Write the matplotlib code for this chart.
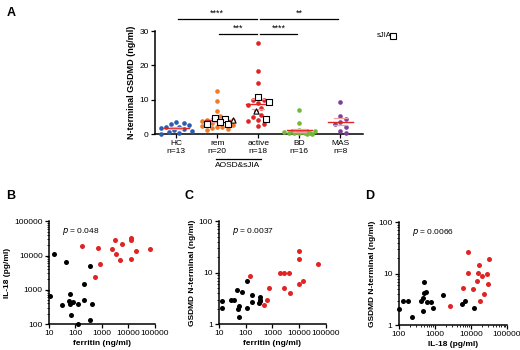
import numpy as np
import matplotlib
matplotlib.use("Agg")
import matplotlib.pyplot as plt
from matplotlib import ticker

plt.rcParams['font.family'] = ['Liberation Sans', 'DejaVu Sans']
plt.rcParams['font.size'] = 6

# Panel A: N-terminal GSDMD (ng/ml) per group
groups = ["HC\nn=13", "rem\nn=20", "active\nn=18", "BD\nn=16", "MAS\nn=8"]
hc = [3.5, 3.2, 2.9, 2.5, 2.2, 2.0, 1.8, 1.5, 1.2, 0.9, 0.5, 0.3, 0.1]
rem = [12.5, 9.5, 6.8, 5.3, 4.6, 4.4, 4.2, 4.0, 3.8, 3.5, 3.3, 3.0, 2.8,
       2.6, 2.4, 2.2, 2.0, 1.8, 1.5, 1.2]
active = [26.5, 18.5, 15.0, 10.7, 10.0, 9.8, 9.4, 9.0, 8.5, 7.5, 6.8, 5.5,
          5.0, 4.5, 4.0, 3.8, 3.0, 2.3]
bd = [7.0, 3.2, 1.2, 1.0, 0.9, 0.8, 0.7, 0.6, 0.5, 0.4, 0.3, 0.3, 0.2, 0.2,
      0.1, 0.1]
mas = [9.3, 5.3, 4.3, 3.5, 2.8, 2.2, 1.0, 0.4]
# sJIA patients (open squares) and one triangle
rem_sjia = [4.6, 4.4, 3.5, 3.0, 2.8]
active_sjia = [10.7, 9.4, 4.5]
rem_tri = [4.0]
active_tri = [6.8]
sig_pairs = [(0, 2, "****"), (2, 4, "**"), (1, 2, "***"), (2, 3, "****")]

# Panel B: ferritin vs IL-18
b_fer_blk = [15.6, 43, 363, 11, 205, 61, 205, 32, 56, 61, 79, 130, 410, 66, 360, 130]
b_il18_blk = [11000, 6300, 5000, 680, 1450, 730, 520, 350, 470, 390, 430, 390, 390, 180, 134, 102]
b_fer_red = [174, 740, 550, 830, 2350, 3160, 3470, 5900, 4900, 12600, 12600, 12600, 18600, 64000]
b_il18_red = [19500, 17000, 2300, 5600, 15000, 28000, 11000, 21500, 7300, 31500, 28000, 7800, 13700, 15600]

# Panel C: ferritin vs GSDMD
c_fer_blk = [13, 13.5, 29, 38, 49, 71, 52, 54, 58, 115, 115, 173, 173, 330, 355, 320, 355]
c_gs_blk = [2.8, 2.1, 2.9, 3.0, 4.5, 4.3, 1.95, 2.2, 1.37, 6.8, 2.04, 3.75, 2.7, 3.0, 3.3, 2.55, 2.8]
c_fer_red = [150, 470, 650, 730, 1880, 2650, 2760, 4000, 4700, 9400, 9400, 9400, 14000, 49000]
c_gs_red = [8.6, 2.33, 2.95, 5.0, 10, 9.7, 5.0, 10, 4.0, 26.6, 18.4, 6.1, 7.0, 14.7]

# Panel D: IL-18 vs GSDMD
d_il18_blk = [100, 129, 178, 230, 420, 470, 490, 510, 570, 470, 620, 800, 890, 1700, 5600, 7000, 11800]
d_gs_blk = [2.1, 3.0, 3.0, 1.41, 2.9, 3.4, 7.0, 4.3, 4.4, 1.9, 2.76, 2.8, 2.17, 3.85, 2.6, 3.0, 2.2]
d_il18_red = [2640, 6000, 8300, 8500, 11500, 14800, 15800, 16500, 17500, 20400, 23000, 28500, 29000, 31500]
d_gs_red = [2.38, 5.2, 10.4, 27, 5.1, 7.1, 10.4, 15, 3.0, 9.0, 4.0, 10, 6.3, 19]

colors_a = ['#2a5db0', '#ee7a2a', '#e02424', '#72b83a', '#7e3f98']
red = '#e02424'


def swarm(vals, ypx=3.43, xpx=41.25, d=5.5, maxoff=16):
    # simple beeswarm in pixel units, clamped to +-maxoff px
    placed = []
    offs = []
    for v in vals:
        y = v * ypx
        best, best_d = 0.0, -1
        for k in range(40):
            step = (k + 1) // 2 * (1 if k % 2 else -1) * 2.6
            if abs(step) > maxoff:
                break
            md = min([np.hypot(step - px, y - py) for px, py in placed] or [99])
            if md >= d:
                best = step
                break
            if md > best_d:
                best, best_d = step, md
        placed.append((best, y))
        offs.append(best / xpx)
    return np.array(offs)


fig = plt.figure(figsize=(5.2, 3.5), dpi=100)


def style(ax):
    for s in ['top', 'right']:
        ax.spines[s].set_visible(False)
    for s in ['left', 'bottom']:
        ax.spines[s].set_linewidth(1.1)
    ax.tick_params(direction='out', length=3, width=0.9, labelsize=6, pad=1.5)
    ax.tick_params(which='minor', length=1.5, width=0.6)


# ---- Panel A
ax = fig.add_axes([0.298, 0.617, 0.4, 0.294])
style(ax)
data_a = [hc, rem, active, bd, mas]
for i, vals in enumerate(data_a):
    vals = np.array(vals)
    xs = i + swarm(vals)
    ax.scatter(xs, vals, s=11, color=colors_a[i], lw=0, zorder=3, clip_on=False)
    m = vals.mean()
    sem = vals.std(ddof=1) / np.sqrt(len(vals))
    ax.plot([i - 0.3, i + 0.3], [m, m], color=red, lw=1.0, zorder=4)
    ax.plot([i - 0.15, i + 0.15], [m + sem] * 2, color='#f2a0a0', lw=0.9, zorder=4)
    ax.plot([i - 0.15, i + 0.15], [m - sem] * 2, color='#f2a0a0', lw=0.9, zorder=4)
    if i in (1, 2):
        sq = rem_sjia if i == 1 else active_sjia
        tri = rem_tri if i == 1 else active_tri
        for v in sq:
            j = int(np.argmin(np.abs(vals - v)))
            ax.scatter(xs[j], vals[j], s=16, marker='s', facecolor='white',
                       edgecolor='black', lw=0.8, zorder=5)
        for v in tri:
            j = int(np.argmin(np.abs(vals - v)))
            ax.scatter(xs[j], vals[j], s=14, marker='^', facecolor='white',
                       edgecolor='black', lw=0.8, zorder=5)

ax.set_xlim(-0.52, 4.55)
ax.set_ylim(0, 30)
ax.set_yticks([0, 10, 20, 30])
ax.set_xticks(range(5))
ax.set_xticklabels(groups, linespacing=1.1)
ax.set_ylabel("N-terminal GSDMD (ng/ml)", fontsize=6.5, fontweight='bold', labelpad=2)
for k, (a, b, st) in enumerate(sig_pairs):
    y = 33.6 if k < 2 else 29.2
    off = 0.04
    ax.plot([a + (off if a == 2 else 0.05), b - (off if b == 2 else 0.05)], [y, y],
            color='black', lw=0.9, clip_on=False)
    ax.text((a + b) / 2, y + 0.3, st, ha='center', va='bottom', fontsize=6.5)
tr = ax.get_xaxis_transform()
ax.plot([0.97, 2.06], [-0.24, -0.24], color='black', lw=0.9, transform=tr, clip_on=False)
ax.text(1.5, -0.27, "AOSD&sJIA", ha='center', va='top', fontsize=6, transform=tr)
fig.text(0.725, 0.898, "sJIA", fontsize=5.5, va='center')
fig.lines.append(plt.Line2D([0.756], [0.898], marker='s', markersize=4,
                            markerfacecolor='white', markeredgecolor='black',
                            markeredgewidth=0.8, transform=fig.transFigure))
fig.text(0.012, 0.963, "A", fontsize=9, fontweight='bold', va='center')

# ---- Panels B, C, D
fmt = ticker.FuncFormatter(lambda v, p: f"{v:g}")


def scat(rect, xb, yb, xr, yr, xlim, ylim, xlabel, ylabel, ptxt, letter, lx):
    ax = fig.add_axes(rect)
    style(ax)
    ax.set_xscale('log')
    ax.set_yscale('log')
    ax.scatter(xb, yb, s=13, color='black', lw=0, zorder=3, clip_on=False)
    ax.scatter(xr, yr, s=13, color=red, lw=0, zorder=3, clip_on=False)
    ax.set_xlim(*xlim)
    ax.set_ylim(*ylim)
    ax.xaxis.set_major_locator(ticker.LogLocator(base=10, numticks=10))
    ax.yaxis.set_major_locator(ticker.LogLocator(base=10, numticks=10))
    ax.xaxis.set_major_formatter(fmt)
    ax.yaxis.set_major_formatter(fmt)
    ax.xaxis.set_minor_formatter(ticker.NullFormatter())
    ax.yaxis.set_minor_formatter(ticker.NullFormatter())
    ax.set_xlabel(xlabel, fontsize=6, fontweight='bold', labelpad=2)
    ax.set_ylabel(ylabel, fontsize=6, fontweight='bold', labelpad=2)
    ax.text(0.12, 0.9, r"$p$ = " + ptxt, transform=ax.transAxes, fontsize=6,
            va='center')
    fig.text(lx, 0.44, letter, fontsize=9, fontweight='bold', va='center')
    return ax


scat([0.094, 0.074, 0.204, 0.294], b_fer_blk, b_il18_blk, b_fer_red, b_il18_red,
     (10, 1e5), (100, 1e5), "ferritin (ng/ml)", "IL-18 (pg/ml)", "0.048", "B", 0.012)
scat([0.421, 0.074, 0.206, 0.294], c_fer_blk, c_gs_blk, c_fer_red, c_gs_red,
     (10, 1e5), (1, 100), "ferritin (ng/ml)", "GSDMD N-terminal (ng/ml)", "0.0037", "C", 0.355)
scat([0.767, 0.071, 0.208, 0.294], d_il18_blk, d_gs_blk, d_il18_red, d_gs_red,
     (100, 1e5), (1, 100), "IL-18 (pg/ml)", "GSDMD N-terminal (ng/ml)", "0.0066", "D", 0.702)

fig.savefig("out.png", dpi=100)
